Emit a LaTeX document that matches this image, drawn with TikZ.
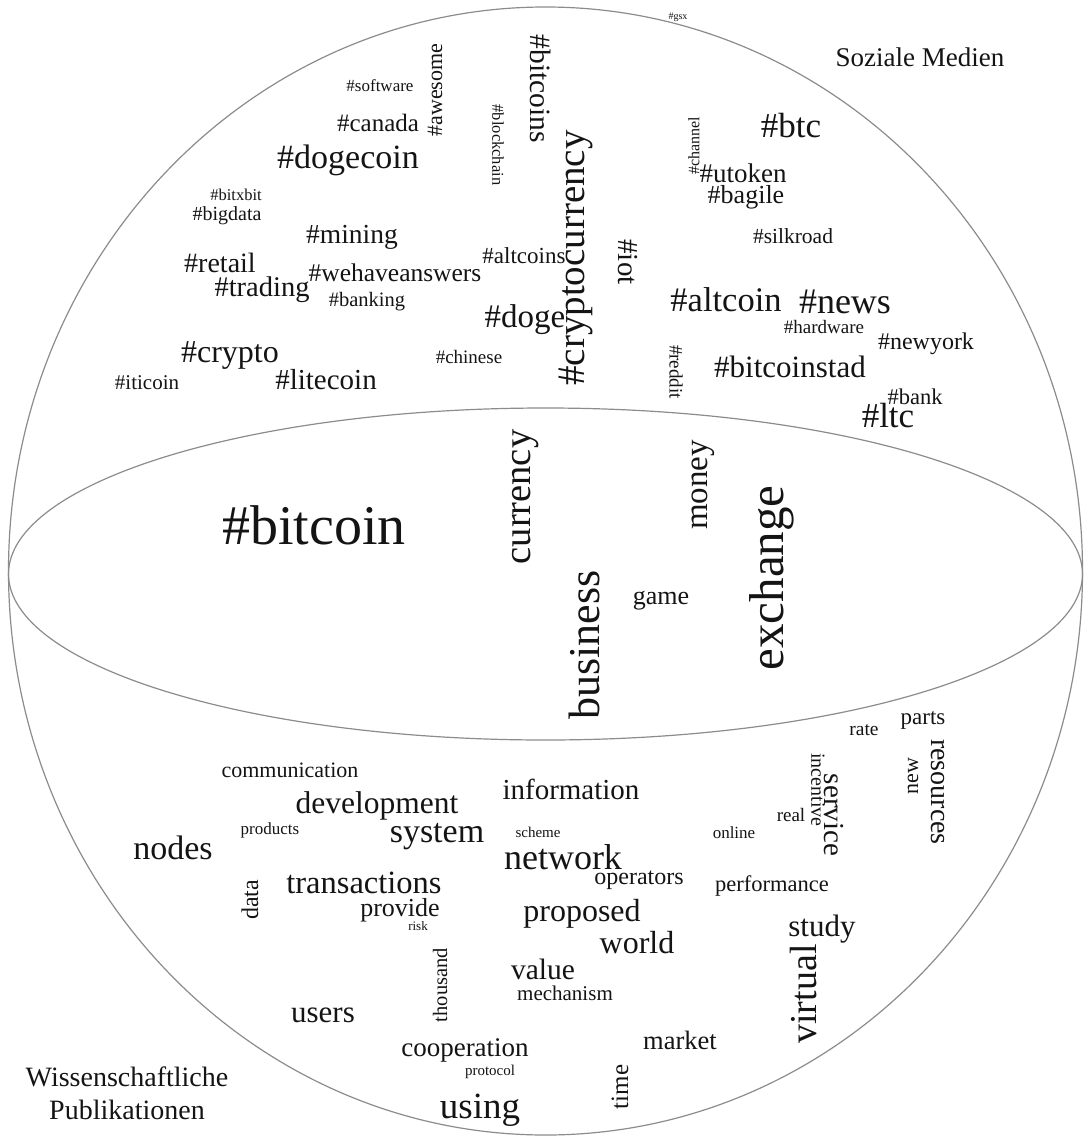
\documentclass[tikz,border=0pt]{standalone}
\usepackage{fontspec}
\setmainfont{Liberation Serif}
\begin{document}
\begin{tikzpicture}[x=1pt,y=-1pt,
  wd/.style={font=\fontsize{#1}{#1}\selectfont, inner sep=0pt, text=black!92, anchor=center},
  up/.style={rotate=90},
  down/.style={rotate=-90},
  rim/.style={draw=black!45, line width=1.2pt}]
\useasboundingbox (0,0) rectangle (1086,1138);
\fill[white] (0,0) rectangle (1086,1138);
% sphere
\draw[rim] (545.5,571) ellipse [x radius=537, y radius=564];
\draw[rim] (545.5,574) ellipse [x radius=537, y radius=166];
% labels
\node[wd=27] (soz) at (920,57) {Soziale Medien};
\node[wd=28] (wis) at (127,1077) {Wissenschaftliche};
\node[wd=28] (pub) at (127,1110) {Publikationen};
% top: social media
\node[wd=10] (gsx) at (678,17) {\#gsx};
\node[wd=17] (software) at (380,86) {\#software};
\node[wd=25] (canada) at (378,123) {\#canada};
\node[wd=22,up] (awesome) at (435,90) {\#awesome};
\node[wd=16.5,down] (blockchain) at (498,145) {\#blockchain};
\node[wd=29.5,down] (bitcoins) at (541,89) {\#bitcoins};
\node[wd=34] (dogecoin) at (348,160) {\#dogecoin};
\node[wd=16.5] (bitxbit) at (236,195) {\#bitxbit};
\node[wd=20] (bigdata) at (227,216) {\#bigdata};
\node[wd=27.5] (mining) at (352,237) {\#mining};
\node[wd=28] (retail) at (220,263) {\#retail};
\node[wd=25.5] (wehave) at (395,273) {\#wehaveanswers};
\node[wd=28.5] (trading) at (262,290) {\#trading};
\node[wd=20.5] (banking) at (367,302) {\#banking};
\node[wd=23] (altcoins) at (524,256) {\#altcoins};
\node[wd=33] (doge) at (525,320) {\#doge};
\node[wd=39,up] (crypcur) at (576,258) {\#cryptocurrency};
\node[wd=29,down] (iot) at (628,262) {\#iot};
\node[wd=19] (chinese) at (469,357) {\#chinese};
\node[wd=32] (crypto) at (230,355) {\#crypto};
\node[wd=29] (litecoin) at (326,380) {\#litecoin};
\node[wd=21] (iticoin) at (147,383) {\#iticoin};
\node[wd=35] (btc) at (791,126) {\#btc};
\node[wd=16,up] (channel) at (694,146) {\#channel};
\node[wd=27] (utoken) at (743,173) {\#utoken};
\node[wd=26] (bagile) at (746,197) {\#bagile};
\node[wd=21.5] (silkroad) at (793,236) {\#silkroad};
\node[wd=34.5] (altcoin) at (726,300) {\#altcoin};
\node[wd=36] (news) at (845,302) {\#news};
\node[wd=19] (hardware) at (824,327) {\#hardware};
\node[wd=24] (newyork) at (926,344) {\#newyork};
\node[wd=31] (bitcoinstad) at (790,367) {\#bitcoinstad};
\node[wd=19,down] (reddit) at (676,372) {\#reddit};
\node[wd=22.5] (bank) at (915,397) {\#bank};
\node[wd=35] (ltc) at (888,416) {\#ltc};
% middle: both
\node[wd=56] (bitcoin) at (314,525) {\#bitcoin};
\node[wd=38.5,up] (currency) at (526,497) {currency};
\node[wd=33,up] (money) at (703,485) {money};
\node[wd=49,up] (exchange) at (772,578) {exchange};
\node[wd=44,up] (business) at (584,645) {business};
\node[wd=26] (game) at (661,601) {game};
% bottom: publications
\node[wd=19.5] (rate) at (864,730) {rate};
\node[wd=23] (parts) at (923,720) {parts};
\node[wd=28,down] (resources) at (938,792) {resources};
\node[wd=22,up] (new) at (913,776) {new};
\node[wd=29,down] (service) at (834,815) {service};
\node[wd=20,down] (incentive) at (818,790) {incentive};
\node[wd=19] (real) at (791,815) {real};
\node[wd=17] (online) at (734,833) {online};
\node[wd=22] (communication) at (290,770) {communication};
\node[wd=31.5] (development) at (377,806) {development};
\node[wd=17] (products) at (270,830) {products};
\node[wd=34] (nodes) at (173,848) {nodes};
\node[wd=34] (system) at (437,837) {system};
\node[wd=29] (information) at (571,789) {information};
\node[wd=15] (scheme) at (538,832) {scheme};
\node[wd=36] (network) at (563,857) {network};
\node[wd=24] (operators) at (639,880) {operators};
\node[wd=22.5] (performance) at (772,886) {performance};
\node[wd=32.5] (transactions) at (364,883) {transactions};
\node[wd=24,up] (data) at (250,900) {data};
\node[wd=26] (provide) at (400,910) {provide};
\node[wd=13] (risk) at (418,926) {risk};
\node[wd=32] (proposed) at (582,914) {proposed};
\node[wd=32] (world) at (637,943) {world};
\node[wd=31] (study) at (822,929) {study};
\node[wd=20.5,up] (thousand) at (440,985) {thousand};
\node[wd=29.5] (value) at (543,969) {value};
\node[wd=21] (mechanism) at (565,993) {mechanism};
\node[wd=38,up] (virtual) at (803,994) {virtual};
\node[wd=31] (users) at (323,1015) {users};
\node[wd=26.5] (market) at (680,1040) {market};
\node[wd=27] (cooperation) at (465,1050) {cooperation};
\node[wd=15] (protocol) at (490,1072) {protocol};
\node[wd=25,up] (time) at (620,1087) {time};
\node[wd=37] (using) at (480,1110) {using};
\end{tikzpicture}
\end{document}
